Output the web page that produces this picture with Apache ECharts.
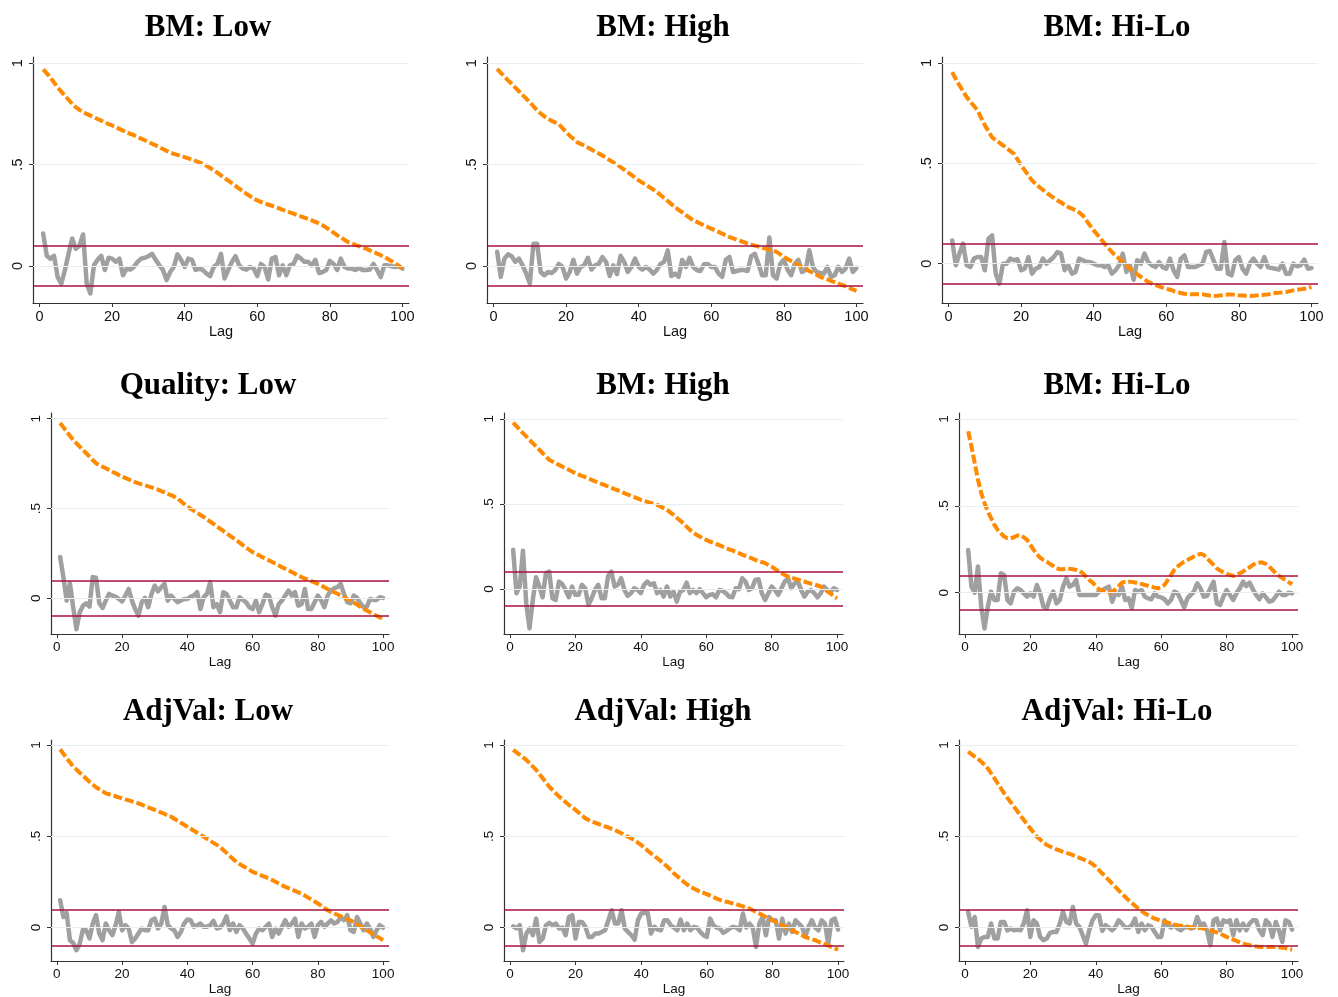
<!DOCTYPE html>
<html>
<head>
<meta charset="utf-8">
<title>ACF / PACF</title>
<script src="https://cdn.jsdelivr.net/npm/echarts@6/dist/echarts.min.js"></script>
<style>
  html, body { margin: 0; padding: 0; background: #fff; }
  #Chart { width: 1338px; height: 997px; }
</style>
</head>
<body>
<div id="Chart"></div>
<script>
var titles = ['BM: Low', 'BM: High', 'BM: Hi-Lo', 'Quality: Low', 'BM: High', 'BM: Hi-Lo', 'AdjVal: Low', 'AdjVal: High', 'AdjVal: Hi-Lo'];
var xTicks = [0, 20, 40, 60, 80, 100];
var yTicks = [0, 0.5, 1];
var bandValue = 0.1;
var lags = [];
for (var l = 1; l <= 100; l++) lags.push(l);

// autocorrelations (orange, dashed)
var acfBMLow = [0.97,0.95,0.93,0.905,0.88,0.86,0.84,0.82,0.80,0.783,0.77,0.76,0.75,0.742,0.734,0.725,0.717,0.709,0.70,0.693,0.685,0.676,0.668,0.66,0.652,0.645,0.636,0.628,0.62,0.611,0.603,0.595,0.586,0.577,0.568,0.56,0.553,0.548,0.542,0.537,0.531,0.525,0.518,0.511,0.504,0.494,0.483,0.472,0.46,0.447,0.434,0.421,0.408,0.395,0.381,0.368,0.356,0.344,0.333,0.323,0.316,0.31,0.303,0.297,0.29,0.284,0.277,0.271,0.264,0.258,0.251,0.245,0.238,0.232,0.225,0.217,0.209,0.2,0.189,0.176,0.164,0.152,0.141,0.129,0.118,0.111,0.104,0.098,0.091,0.085,0.077,0.069,0.061,0.053,0.044,0.034,0.023,0.012,0.0,-0.013];
var acfBMHigh = [0.972,0.953,0.935,0.916,0.898,0.88,0.862,0.844,0.826,0.808,0.788,0.767,0.752,0.738,0.726,0.716,0.708,0.70,0.68,0.66,0.643,0.627,0.611,0.602,0.594,0.584,0.574,0.565,0.555,0.545,0.534,0.522,0.511,0.5,0.488,0.475,0.462,0.449,0.435,0.422,0.411,0.4,0.388,0.377,0.365,0.35,0.335,0.32,0.305,0.29,0.277,0.264,0.251,0.238,0.225,0.217,0.209,0.2,0.192,0.184,0.176,0.168,0.159,0.151,0.143,0.136,0.13,0.123,0.117,0.11,0.105,0.1,0.095,0.09,0.085,0.08,0.075,0.069,0.057,0.044,0.034,0.024,0.015,0.005,-0.005,-0.015,-0.025,-0.034,-0.044,-0.054,-0.061,-0.067,-0.074,-0.08,-0.087,-0.094,-0.101,-0.108,-0.116,-0.123];
var acfBMHiLo = [0.955,0.92,0.889,0.86,0.83,0.808,0.786,0.764,0.727,0.69,0.66,0.63,0.615,0.603,0.59,0.576,0.562,0.548,0.52,0.49,0.465,0.44,0.415,0.398,0.382,0.368,0.354,0.34,0.328,0.316,0.305,0.293,0.282,0.274,0.266,0.255,0.24,0.215,0.19,0.166,0.144,0.122,0.1,0.079,0.058,0.041,0.025,0.008,-0.008,-0.025,-0.039,-0.053,-0.066,-0.079,-0.091,-0.099,-0.106,-0.113,-0.119,-0.125,-0.13,-0.136,-0.141,-0.146,-0.15,-0.152,-0.153,-0.153,-0.153,-0.153,-0.156,-0.159,-0.161,-0.16,-0.158,-0.156,-0.154,-0.153,-0.156,-0.158,-0.159,-0.16,-0.161,-0.16,-0.158,-0.156,-0.155,-0.153,-0.15,-0.146,-0.145,-0.143,-0.141,-0.137,-0.133,-0.13,-0.128,-0.125,-0.12,-0.116];
var acfQualLow = [0.976,0.952,0.929,0.905,0.882,0.863,0.845,0.826,0.808,0.789,0.77,0.752,0.742,0.733,0.724,0.715,0.705,0.696,0.686,0.677,0.67,0.662,0.655,0.647,0.64,0.634,0.629,0.623,0.618,0.612,0.605,0.597,0.59,0.582,0.575,0.566,0.556,0.54,0.525,0.51,0.499,0.487,0.476,0.464,0.453,0.44,0.427,0.414,0.401,0.388,0.375,0.362,0.349,0.336,0.323,0.31,0.296,0.283,0.27,0.257,0.248,0.239,0.229,0.22,0.211,0.202,0.192,0.183,0.173,0.164,0.155,0.146,0.136,0.127,0.118,0.11,0.103,0.095,0.088,0.08,0.071,0.062,0.052,0.043,0.034,0.025,0.015,0.006,-0.004,-0.013,-0.024,-0.035,-0.047,-0.058,-0.069,-0.078,-0.088,-0.097,-0.107,-0.116];
var acfQualHigh = [0.978,0.957,0.937,0.916,0.896,0.876,0.857,0.837,0.818,0.798,0.778,0.759,0.749,0.739,0.729,0.719,0.709,0.7,0.69,0.68,0.672,0.664,0.657,0.649,0.641,0.633,0.625,0.618,0.61,0.602,0.594,0.586,0.579,0.571,0.563,0.555,0.547,0.54,0.532,0.524,0.518,0.512,0.506,0.5,0.494,0.485,0.475,0.465,0.45,0.435,0.418,0.402,0.386,0.366,0.347,0.332,0.318,0.308,0.298,0.288,0.28,0.272,0.264,0.257,0.249,0.241,0.233,0.226,0.218,0.21,0.202,0.194,0.187,0.179,0.171,0.164,0.158,0.151,0.141,0.131,0.118,0.105,0.092,0.082,0.073,0.067,0.061,0.055,0.049,0.043,0.037,0.031,0.026,0.02,0.014,0.0,-0.014,-0.027,-0.041,-0.055];
var acfQualHiLo = [0.929,0.842,0.746,0.65,0.573,0.515,0.467,0.429,0.39,0.362,0.342,0.323,0.313,0.313,0.319,0.329,0.329,0.319,0.304,0.275,0.246,0.221,0.202,0.188,0.179,0.165,0.154,0.14,0.135,0.135,0.14,0.137,0.135,0.131,0.125,0.112,0.092,0.073,0.058,0.038,0.019,0.012,0.006,0.0,0.006,0.019,0.038,0.058,0.063,0.063,0.062,0.058,0.054,0.05,0.044,0.04,0.035,0.029,0.025,0.031,0.044,0.073,0.102,0.131,0.15,0.165,0.179,0.188,0.198,0.208,0.217,0.223,0.217,0.198,0.179,0.16,0.14,0.127,0.117,0.108,0.102,0.096,0.102,0.112,0.121,0.135,0.146,0.16,0.169,0.173,0.173,0.165,0.15,0.131,0.112,0.096,0.083,0.073,0.06,0.048];
var acfAdjLow = [0.976,0.952,0.928,0.905,0.881,0.865,0.848,0.832,0.815,0.799,0.783,0.768,0.757,0.746,0.735,0.73,0.724,0.719,0.713,0.708,0.702,0.697,0.691,0.686,0.68,0.673,0.666,0.658,0.651,0.644,0.637,0.629,0.622,0.614,0.607,0.596,0.585,0.574,0.563,0.552,0.541,0.53,0.519,0.508,0.497,0.486,0.475,0.464,0.453,0.442,0.425,0.409,0.392,0.376,0.36,0.348,0.337,0.327,0.316,0.305,0.298,0.291,0.283,0.276,0.269,0.26,0.251,0.241,0.232,0.223,0.216,0.208,0.201,0.193,0.186,0.175,0.164,0.154,0.143,0.132,0.12,0.107,0.095,0.086,0.077,0.07,0.062,0.055,0.047,0.04,0.029,0.018,0.007,-0.004,-0.015,-0.026,-0.037,-0.047,-0.058,-0.069];
var acfAdjHigh = [0.973,0.959,0.946,0.932,0.918,0.9,0.881,0.863,0.84,0.817,0.794,0.771,0.753,0.735,0.717,0.702,0.686,0.671,0.657,0.644,0.629,0.613,0.598,0.589,0.58,0.574,0.567,0.561,0.554,0.548,0.54,0.533,0.525,0.516,0.506,0.497,0.488,0.479,0.465,0.452,0.437,0.421,0.406,0.392,0.378,0.363,0.348,0.333,0.315,0.296,0.281,0.265,0.25,0.236,0.223,0.214,0.205,0.196,0.19,0.183,0.175,0.167,0.159,0.152,0.146,0.141,0.137,0.132,0.127,0.122,0.116,0.11,0.104,0.095,0.086,0.077,0.067,0.058,0.049,0.04,0.031,0.022,0.013,0.004,-0.005,-0.014,-0.024,-0.033,-0.042,-0.051,-0.058,-0.064,-0.069,-0.077,-0.084,-0.091,-0.099,-0.106,-0.114,-0.121];
var acfAdjHiLo = [0.963,0.95,0.936,0.923,0.909,0.891,0.872,0.845,0.818,0.79,0.763,0.735,0.71,0.686,0.662,0.638,0.613,0.589,0.566,0.543,0.52,0.497,0.482,0.467,0.452,0.444,0.436,0.428,0.422,0.415,0.409,0.403,0.397,0.39,0.382,0.375,0.367,0.36,0.347,0.333,0.315,0.296,0.278,0.26,0.241,0.223,0.204,0.186,0.168,0.15,0.135,0.119,0.104,0.091,0.077,0.068,0.058,0.049,0.043,0.037,0.032,0.027,0.022,0.017,0.013,0.01,0.007,0.004,0.002,0.0,-0.002,-0.003,-0.005,-0.01,-0.015,-0.021,-0.027,-0.033,-0.042,-0.051,-0.058,-0.066,-0.073,-0.081,-0.088,-0.092,-0.096,-0.1,-0.103,-0.106,-0.106,-0.106,-0.106,-0.106,-0.106,-0.108,-0.11,-0.112,-0.117,-0.121];

// partial autocorrelations (gray, solid)
var pacfBMLow = [0.16,0.05,0.035,0.05,-0.055,-0.087,-0.02,0.06,0.135,0.085,0.1,0.155,-0.087,-0.136,0.003,0.03,0.05,-0.02,0.04,0.036,0.02,0.036,-0.046,-0.013,-0.018,-0.005,0.02,0.036,0.04,0.048,0.06,0.03,0.003,-0.02,-0.07,-0.03,-0.005,0.057,0.03,-0.005,0.036,0.03,-0.02,-0.013,-0.02,-0.038,-0.05,-0.005,0.01,0.06,-0.062,-0.02,0.02,0.048,0.003,-0.013,-0.018,-0.005,-0.013,-0.05,0.01,-0.005,-0.067,0.036,0.044,-0.046,0.003,-0.046,0.003,0.01,0.05,0.036,0.02,0.02,0.003,0.03,-0.035,-0.03,-0.02,0.025,0.01,-0.02,0.036,-0.005,-0.013,-0.013,-0.02,-0.01,-0.02,-0.02,-0.018,0.01,-0.02,-0.055,0.003,0.003,-0.002,-0.005,-0.002,-0.013];
var pacfBMHigh = [0.07,-0.054,0.036,0.057,0.048,0.02,0.036,0.003,-0.038,-0.087,0.11,0.11,-0.03,-0.046,-0.03,-0.035,-0.02,0.01,-0.005,-0.062,-0.03,0.03,-0.038,-0.005,0.003,0.04,-0.018,0.003,0.01,0.044,0.02,-0.05,0.003,-0.041,0.05,0.02,-0.03,-0.005,0.036,-0.005,-0.018,-0.005,-0.018,-0.038,-0.02,0.01,0.02,0.077,-0.05,-0.038,-0.054,0.03,-0.005,0.04,-0.005,-0.02,-0.025,0.008,0.01,-0.005,-0.005,-0.038,-0.054,0.03,0.044,-0.03,-0.025,-0.02,-0.02,-0.025,0.048,0.06,0.01,-0.046,-0.046,0.14,-0.046,-0.062,0.01,0.03,-0.018,-0.046,0.01,0.03,-0.03,-0.02,0.077,-0.005,-0.03,-0.035,-0.038,-0.005,-0.054,-0.046,-0.005,-0.03,-0.013,0.036,-0.03,-0.01];
var pacfBMHiLo = [0.116,-0.008,0.05,0.1,-0.008,-0.017,0.025,0.033,0.033,-0.033,0.125,0.141,-0.05,-0.1,0.0,0.0,0.025,0.017,0.022,-0.033,-0.025,0.033,-0.05,-0.025,-0.017,0.025,0.0,0.017,0.033,0.058,0.05,-0.033,-0.008,-0.05,-0.041,0.025,0.017,0.008,0.008,0.0,-0.008,-0.008,-0.017,-0.008,-0.05,-0.033,-0.008,0.05,-0.041,-0.008,-0.08,0.017,0.0,0.05,0.008,-0.008,-0.017,0.008,-0.017,-0.025,0.025,-0.033,-0.066,0.025,0.041,-0.017,-0.017,-0.017,-0.008,0.0,0.058,0.063,0.017,-0.025,-0.025,0.108,-0.05,-0.058,0.017,0.033,-0.025,-0.05,0.0,0.025,0.0,-0.017,0.033,-0.017,-0.022,-0.025,-0.03,0.0,-0.05,-0.05,0.0,-0.013,-0.008,0.02,-0.025,-0.022];
var pacfQualLow = [0.23,0.118,-0.013,0.084,-0.05,-0.172,-0.078,-0.041,-0.028,-0.047,0.118,0.114,-0.028,-0.054,-0.013,0.024,0.015,0.009,-0.004,-0.017,0.015,0.052,-0.013,-0.06,-0.097,-0.022,0.002,-0.05,0.024,0.071,0.039,0.062,0.08,-0.013,0.015,-0.004,-0.022,-0.013,-0.004,-0.004,0.009,0.015,0.034,-0.06,0.006,0.024,0.09,-0.05,-0.032,-0.078,0.034,0.024,-0.013,-0.05,-0.05,0.006,-0.009,-0.022,-0.05,-0.06,-0.013,-0.078,-0.032,0.02,0.015,-0.05,-0.097,-0.032,-0.013,0.015,0.043,0.015,0.034,-0.041,-0.032,0.052,-0.06,-0.06,-0.022,0.015,-0.013,-0.05,0.015,0.043,0.056,0.062,0.08,0.024,-0.022,-0.028,0.015,0.002,-0.028,-0.05,-0.047,-0.004,-0.009,-0.009,0.006,0.002];
var pacfQualHigh = [0.23,-0.025,0.014,0.225,-0.084,-0.231,-0.065,0.069,0.014,-0.049,0.092,0.102,-0.055,-0.065,0.043,0.029,-0.006,-0.049,0.014,-0.035,-0.035,0.024,0.004,-0.094,-0.055,-0.006,0.024,-0.055,-0.055,0.076,0.102,0.014,0.024,0.063,-0.006,-0.041,-0.025,0.004,-0.006,-0.025,0.024,0.043,0.024,0.033,-0.025,-0.006,-0.045,0.014,-0.045,-0.016,-0.075,-0.016,-0.006,0.037,-0.025,-0.006,-0.025,-0.002,-0.025,-0.049,-0.035,-0.031,-0.049,-0.006,-0.01,-0.025,-0.045,-0.049,0.004,-0.002,0.063,0.043,-0.006,0.004,0.053,0.057,-0.025,-0.065,-0.025,0.014,-0.006,-0.035,0.004,0.043,0.063,0.004,0.033,0.043,-0.006,-0.045,-0.016,-0.006,-0.025,-0.049,-0.025,0.014,-0.006,-0.016,0.004,-0.006];
var pacfQualHiLo = [0.246,0.035,0.0,0.15,-0.081,-0.206,-0.081,0.006,-0.042,-0.042,0.112,0.102,-0.042,-0.062,0.006,0.025,0.015,-0.004,-0.023,-0.004,-0.023,0.044,-0.004,-0.081,-0.09,-0.033,0.006,-0.062,-0.042,0.035,0.083,0.035,0.044,0.073,-0.013,-0.013,-0.013,-0.013,-0.013,-0.013,0.006,0.015,0.025,0.035,-0.052,-0.004,-0.013,0.035,-0.042,-0.033,-0.09,0.015,0.006,0.015,-0.023,-0.033,-0.038,-0.004,-0.023,-0.027,-0.038,-0.062,-0.042,0.006,-0.004,-0.042,-0.085,-0.033,-0.013,0.006,0.054,0.025,-0.023,-0.019,0.025,0.063,-0.062,-0.071,-0.023,0.015,-0.013,-0.042,-0.004,0.025,0.063,0.038,0.058,0.019,-0.013,-0.038,-0.004,-0.027,-0.052,-0.046,-0.023,0.006,-0.013,-0.013,0.0,-0.004];
var pacfAdjLow = [0.15,0.058,0.08,-0.069,-0.084,-0.124,-0.088,-0.011,-0.015,-0.06,0.022,0.068,-0.033,-0.069,0.022,-0.015,-0.042,0.013,0.086,-0.015,0.013,-0.005,-0.079,-0.06,-0.033,-0.005,-0.015,-0.015,0.04,0.049,-0.005,0.022,0.113,0.013,-0.005,-0.015,-0.051,-0.024,0.022,0.044,0.04,0.004,0.013,0.022,0.004,0.004,0.013,0.037,-0.005,0.0,0.022,0.062,-0.015,0.022,-0.024,0.013,-0.005,-0.033,-0.06,-0.088,-0.033,-0.005,-0.015,0.004,0.022,-0.051,-0.005,-0.033,0.004,0.04,0.004,0.022,0.049,-0.051,0.022,-0.005,0.004,0.022,-0.051,0.013,0.031,0.004,0.022,0.04,0.022,0.031,0.058,0.04,0.068,-0.015,-0.024,0.058,0.022,-0.015,0.022,-0.005,-0.051,-0.015,0.013,0.0];
var pacfAdjHigh = [0.007,-0.005,0.013,-0.124,-0.033,-0.005,-0.042,0.049,-0.079,-0.06,0.013,0.026,0.013,0.022,-0.005,0.0,-0.042,0.058,0.068,-0.06,0.031,0.031,0.004,-0.051,-0.051,-0.033,-0.033,-0.024,-0.015,0.04,0.095,0.022,0.022,0.095,-0.005,-0.024,-0.042,-0.066,0.04,0.077,0.08,0.08,-0.033,0.004,-0.011,-0.015,0.04,0.04,0.013,0.0,-0.015,0.044,-0.015,0.022,-0.015,0.004,0.0,-0.024,-0.042,-0.051,0.049,0.013,0.0,-0.005,-0.029,-0.018,-0.005,0.004,0.0,-0.015,0.077,0.0,0.022,0.0,-0.106,0.022,0.058,-0.042,0.058,0.04,0.04,-0.06,0.049,-0.033,0.022,-0.024,0.04,0.022,0.004,-0.051,0.004,0.04,0.0,-0.015,0.04,0.022,-0.088,0.04,0.049,-0.011];
var pacfAdjHiLo = [0.086,0.004,0.058,-0.106,-0.06,-0.051,-0.051,0.022,-0.06,-0.06,0.031,0.031,-0.015,-0.005,-0.015,-0.011,-0.015,0.022,0.095,-0.051,0.04,0.022,-0.051,-0.069,-0.06,-0.029,-0.024,-0.024,0.022,0.086,0.031,0.022,0.113,0.022,0.004,-0.042,-0.088,-0.015,0.04,0.068,0.068,-0.018,0.013,0.0,-0.015,0.004,0.04,0.022,0.0,0.0,0.013,0.049,-0.024,0.022,-0.015,0.013,0.004,-0.024,-0.051,-0.051,0.04,0.013,0.0,0.013,-0.005,-0.015,0.0,0.004,-0.005,0.0,0.058,0.013,0.022,-0.015,-0.097,0.04,0.049,-0.015,0.04,0.031,0.04,-0.042,0.04,-0.015,0.022,-0.015,0.022,0.04,0.04,-0.015,-0.042,0.04,0.022,-0.051,0.031,-0.015,-0.079,0.04,0.031,-0.011];

var acfList = [acfBMLow, acfBMHigh, acfBMHiLo, acfQualLow, acfQualHigh, acfQualHiLo, acfAdjLow, acfAdjHigh, acfAdjHiLo];
var pacfList = [pacfBMLow, pacfBMHigh, pacfBMHiLo, pacfQualLow, pacfQualHigh, pacfQualHiLo, pacfAdjLow, pacfAdjHigh, pacfAdjHiLo];

// panel boxes (px) and y ranges
var boxes = [
    {left: 33, top: 57, width: 376, height: 246, yMin: -0.183, yMax: 1.031, tx: 203, ty: 7, fs: 14.5},
    {left: 487, top: 57, width: 376, height: 246, yMin: -0.183, yMax: 1.031, tx: 658, ty: 7, fs: 14.5},
    {left: 942, top: 57, width: 376, height: 246, yMin: -0.196, yMax: 1.03, tx: 1112, ty: 7, fs: 14.5},
    {left: 51, top: 413, width: 338, height: 221, yMin: -0.199, yMax: 1.032, tx: 203, ty: 365, fs: 13.5},
    {left: 504, top: 413, width: 339, height: 221, yMin: -0.265, yMax: 1.034, tx: 658, ty: 365, fs: 13.5},
    {left: 959, top: 413, width: 339, height: 221, yMin: -0.238, yMax: 1.034, tx: 1112, ty: 365, fs: 13.5},
    {left: 51, top: 740, width: 338, height: 221, yMin: -0.183, yMax: 1.027, tx: 203, ty: 691, fs: 13.5},
    {left: 504, top: 740, width: 340, height: 221, yMin: -0.183, yMax: 1.027, tx: 658, ty: 691, fs: 13.5},
    {left: 959, top: 740, width: 339, height: 221, yMin: -0.183, yMax: 1.027, tx: 1112, ty: 691, fs: 13.5}
];

var axisColor = '#333';
var sans = '"Liberation Sans", Arial, sans-serif';

var Chart = echarts.init(document.getElementById('Chart'));

var ChartOption = {
    animation: false,
    backgroundColor: '#fff',
    title: [],
    grid: [],
    xAxis: [],
    yAxis: [],
    series: []
};

boxes.forEach(function (b, i) {
    ChartOption.title.push({
        text: titles[i],
        left: b.tx,
        top: b.ty,
        textAlign: 'center',
        textStyle: {fontFamily: '"Liberation Serif", "Times New Roman", serif', fontWeight: 'bold', fontSize: 31, color: '#000'}
    });
    ChartOption.grid.push({left: b.left, top: b.top, width: b.width, height: b.height, containLabel: false});
    ChartOption.xAxis.push({
        gridIndex: i,
        type: 'value',
        min: -1.8,
        max: 101.8,
        name: 'Lag',
        nameLocation: 'middle',
        nameGap: 21,
        nameTextStyle: {fontFamily: sans, fontSize: b.fs, color: '#111'},
        axisLine: {show: true, onZero: false, lineStyle: {color: axisColor, width: 1.2}},
        axisTick: {show: true, length: 4, customValues: xTicks, lineStyle: {color: axisColor}},
        axisLabel: {customValues: xTicks, margin: 6, fontFamily: sans, fontSize: b.fs, color: '#111'},
        splitLine: {show: false}
    });
    ChartOption.yAxis.push({
        gridIndex: i,
        type: 'value',
        min: b.yMin,
        max: b.yMax,
        axisLine: {show: true, onZero: false, lineStyle: {color: axisColor, width: 1.2}},
        axisTick: {show: true, length: 4, customValues: yTicks, lineStyle: {color: axisColor}},
        axisLabel: {
            customValues: yTicks,
            rotate: 90,
            margin: 8,
            fontFamily: sans,
            fontSize: b.fs,
            color: '#111',
            formatter: function (v) { return v === 0.5 ? '.5' : String(v); }
        },
        splitLine: {show: false}
    });
    // reference lines: light grid at ticks, crimson band at +/- bandValue
    ChartOption.series.push({
        type: 'line',
        xAxisIndex: i,
        yAxisIndex: i,
        data: [],
        z: 1,
        silent: true,
        markLine: {
            silent: true,
            symbol: 'none',
            label: {show: false},
            data: yTicks.map(function (t) {
                return {yAxis: t, lineStyle: {color: '#e6eff1', width: 1, type: 'solid'}};
            }).concat([
                {yAxis: bandValue, lineStyle: {color: '#a8103c', width: 1.6, type: 'solid'}},
                {yAxis: -bandValue, lineStyle: {color: '#a8103c', width: 1.6, type: 'solid'}}
            ])
        }
    });
    ChartOption.series.push({
        type: 'line',
        xAxisIndex: i,
        yAxisIndex: i,
        z: 2,
        symbol: 'none',
        silent: true,
        data: lags.map(function (lag, k) { return [lag, pacfList[i][k]]; }),
        lineStyle: {color: '#a0a0a0', width: 4.5, join: 'round', cap: 'round'}
    });
    ChartOption.series.push({
        type: 'line',
        xAxisIndex: i,
        yAxisIndex: i,
        z: 3,
        symbol: 'none',
        silent: true,
        data: lags.map(function (lag, k) { return [lag, acfList[i][k]]; }),
        lineStyle: {color: '#ff8a00', width: 4, type: [9, 3]}
    });
});

Chart.setOption(ChartOption);
window.addEventListener("resize", function () {
    Chart.resize();
});
</script>
</body>
</html>
